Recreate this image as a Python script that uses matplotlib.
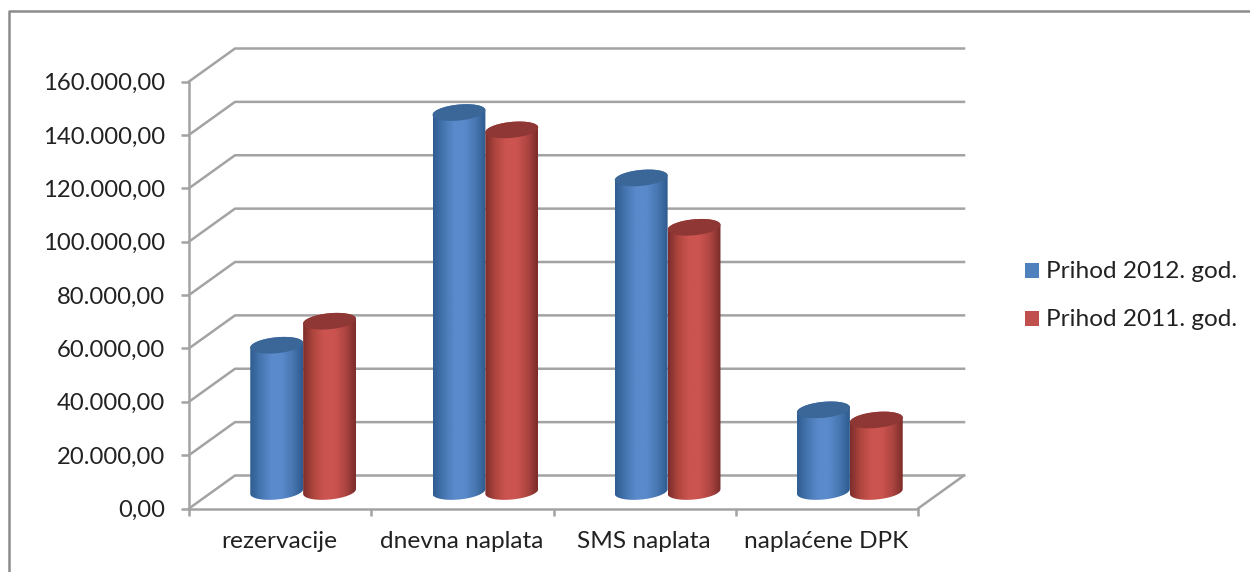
"""Prihod po kategorijama, 2012. i 2011. - 3D cilindri"""

import numpy as np
import matplotlib
matplotlib.use('Agg')
import matplotlib.pyplot as plt
from matplotlib.colors import LinearSegmentedColormap
from matplotlib.lines import Line2D
from matplotlib.patches import Polygon, Rectangle
from matplotlib.transforms import IdentityTransform, ScaledTranslation

plt.rcParams['font.family'] = ['Lato', 'DejaVu Sans']

categories = ['rezervacije', 'dnevna naplata', 'SMS naplata', 'naplaćene DPK']
prihod_2012 = [54800, 142000, 117500, 30600]
prihod_2011 = [63800, 135500, 99000, 26800]
y_ticks = [0, 20000, 40000, 60000, 80000, 100000, 120000, 140000, 160000]
y_labels = ['0,00', '20.000,00', '40.000,00', '60.000,00', '80.000,00',
            '100.000,00', '120.000,00', '140.000,00', '160.000,00']

W, H = 1250, 572
GRID = '#a3a3a3'
TEXT = '#222222'

fig = plt.figure(figsize=(W / 100, H / 100), dpi=100)
ax = fig.add_axes([189 / W, 1 - 508.5 / H, 729 / W, 427 / H])
ax.set_xlim(0, 4)
ax.set_ylim(0, 160000)
ax.patch.set_alpha(0)
for s in ax.spines.values():
    s.set_visible(False)
ax.spines['left'].set_visible(True)
ax.spines['bottom'].set_visible(True)
ax.spines['left'].set_color(GRID)
ax.spines['bottom'].set_color(GRID)
ax.spines['left'].set_linewidth(1.8)
ax.spines['bottom'].set_linewidth(1.8)

ax.set_yticks(y_ticks)
ax.set_yticklabels(y_labels)
ax.set_xticks(range(5))
ax.set_xticklabels([])
ax.tick_params(axis='y', length=6, width=1.8, color=GRID, labelcolor=TEXT,
               labelsize=17.2, pad=11)
ax.tick_params(axis='x', length=5, width=1.8, color=GRID)
for i, name in enumerate(categories):
    ax.text(i + 0.5 - 0.005, -12500, name, ha='center', va='center', fontsize=17.6, color=TEXT)

# ── zadnji zid i dijagonale ─────────────────────────────────────────────
back = ax.transData + ScaledTranslation(46 / 100, 33 / 100, fig.dpi_scale_trans)
for v in y_ticks:
    p0 = ax.transData.transform((0, v))
    p1 = back.transform((0, v))
    p2 = back.transform((4, v))
    ax.add_line(Line2D([p0[0], p1[0], p2[0]], [p0[1], p1[1], p2[1]], color=GRID, lw=1.8,
                       transform=IdentityTransform(), clip_on=False, zorder=1))
p0 = ax.transData.transform((4, 0))
p1 = back.transform((4, 0))
ax.add_line(Line2D([p0[0], p1[0]], [p0[1], p1[1]], color=GRID, lw=1.8,
                   transform=IdentityTransform(), clip_on=False, zorder=1))


# ── cilindri ────────────────────────────────────────────────────────────
def cylinder(xc, value, stops, top, z):
    # tocke u pikselima, preko skale osa + pomak dubine
    cx, base = ax.transData.transform((xc, 0)) + np.array([23, 17])
    _, ytop = ax.transData.transform((xc, value)) + np.array([23, 17])
    half = (ax.transData.transform((0.29, 0))[0] - ax.transData.transform((0, 0))[0]) / 2
    b, tilt = 8, 0.09

    th = np.linspace(np.pi, 2 * np.pi, 50)
    lower = np.column_stack([cx + half * np.cos(th),
                             base + b * np.sin(th) + tilt * half * np.cos(th)])
    th2 = np.linspace(0, np.pi, 50)
    upper = np.column_stack([cx + half * np.cos(th2),
                             ytop + b * np.sin(th2) + tilt * half * np.cos(th2)])
    body = Polygon(np.vstack([lower, upper]), closed=True, fc='none', ec='none',
                   transform=IdentityTransform())
    ax.add_patch(body)

    cmap = LinearSegmentedColormap.from_list('cyl', stops)
    im = ax.imshow(np.linspace(0, 1, 256).reshape(1, -1), cmap=cmap, aspect='auto',
                   extent=(cx - half, cx + half, base - b - 5, ytop + b + 5),
                   transform=IdentityTransform(), interpolation='bilinear', zorder=z)
    im.set_clip_path(body)

    ell = np.linspace(0, 2 * np.pi, 80)
    ex = cx + half * np.cos(ell)
    ey = ytop + b * np.sin(ell) + tilt * half * np.cos(ell)
    ax.add_patch(Polygon(np.column_stack([ex, ey]), closed=True, fc=top, ec='none',
                         transform=IdentityTransform(), clip_on=False, zorder=z + 0.1))


BLUE = ['#2F5C90', '#4676B0', '#5A8ACB', '#5A8ACB', '#4877B2', '#2E5B8E']
RED = ['#7C2D2B', '#B0463F', '#CC5450', '#CC5450', '#AE4541', '#7A2C2A']
for i in range(len(categories)):
    cylinder(i + 0.5 - 0.145, prihod_2012[i], BLUE, '#3A6698', 3 + i)
    cylinder(i + 0.5 + 0.145, prihod_2011[i], RED, '#8E3735', 3.5 + i)
ax.set_xlim(0, 4)
ax.set_ylim(0, 160000)

# ── legenda ─────────────────────────────────────────────────────────────
legend_items = [('Prihod 2012. god.', '#4F81BD', 271), ('Prihod 2011. god.', '#C0504D', 319)]
for label, color, yc in legend_items:
    fig.add_artist(Rectangle((1025 / W, 1 - (yc + 7) / H), 14 / W, 15 / H, fc=color, ec='none',
                             transform=fig.transFigure))
    fig.text(1046 / W, 1 - yc / H, label, ha='left', va='center', fontsize=17.6, color=TEXT)

# ── okvir ───────────────────────────────────────────────────────────────
fig.add_artist(Line2D([9 / W, 9 / W, 1], [0, 1 - 11 / H, 1 - 11 / H], color='#8c8c8c', lw=1.8,
                      transform=fig.transFigure))

fig.savefig('out.png', dpi=100)
plt.close(fig)
